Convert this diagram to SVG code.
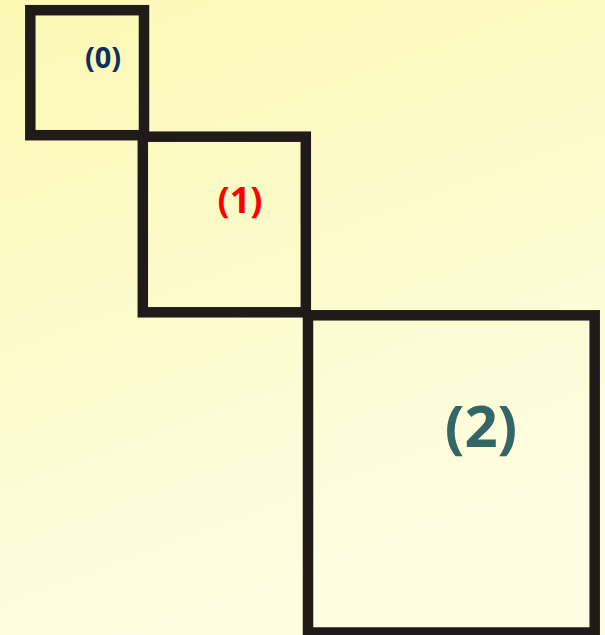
<svg xmlns="http://www.w3.org/2000/svg" width="605" height="635" viewBox="0 0 605 635">
<defs>
<linearGradient id="bg" x1="0" y1="0" x2="0.35" y2="1">
<stop offset="0" stop-color="#fcf8b4"/>
<stop offset="1" stop-color="#fefde2"/>
</linearGradient>
</defs>
<style>
.box{fill:none;stroke:#201b18;stroke-width:10.5;stroke-linejoin:miter}
.lbl{font-family:"Open Sans","Liberation Sans",sans-serif;font-weight:700;text-anchor:middle}
</style>
<rect x="0" y="0" width="605" height="635" fill="url(#bg)"/>
<g id="node0">
<rect class="box" x="30.3" y="10.2" width="113.7" height="125"/>
<text class="lbl" x="103" y="68" font-size="29" fill="#0d2f5e">(0)</text>
</g>
<g id="node1">
<rect class="box" x="142.8" y="136.7" width="163" height="175.6"/>
<text class="lbl" x="240" y="213" font-size="36" fill="#ff0000">(1)</text>
</g>
<g id="node2">
<rect class="box" x="308" y="315.3" width="286.7" height="317.2"/>
<text class="lbl" x="481" y="447" font-size="58" fill="#336666">(2)</text>
</g>
<g id="connectors"></g>
</svg>
